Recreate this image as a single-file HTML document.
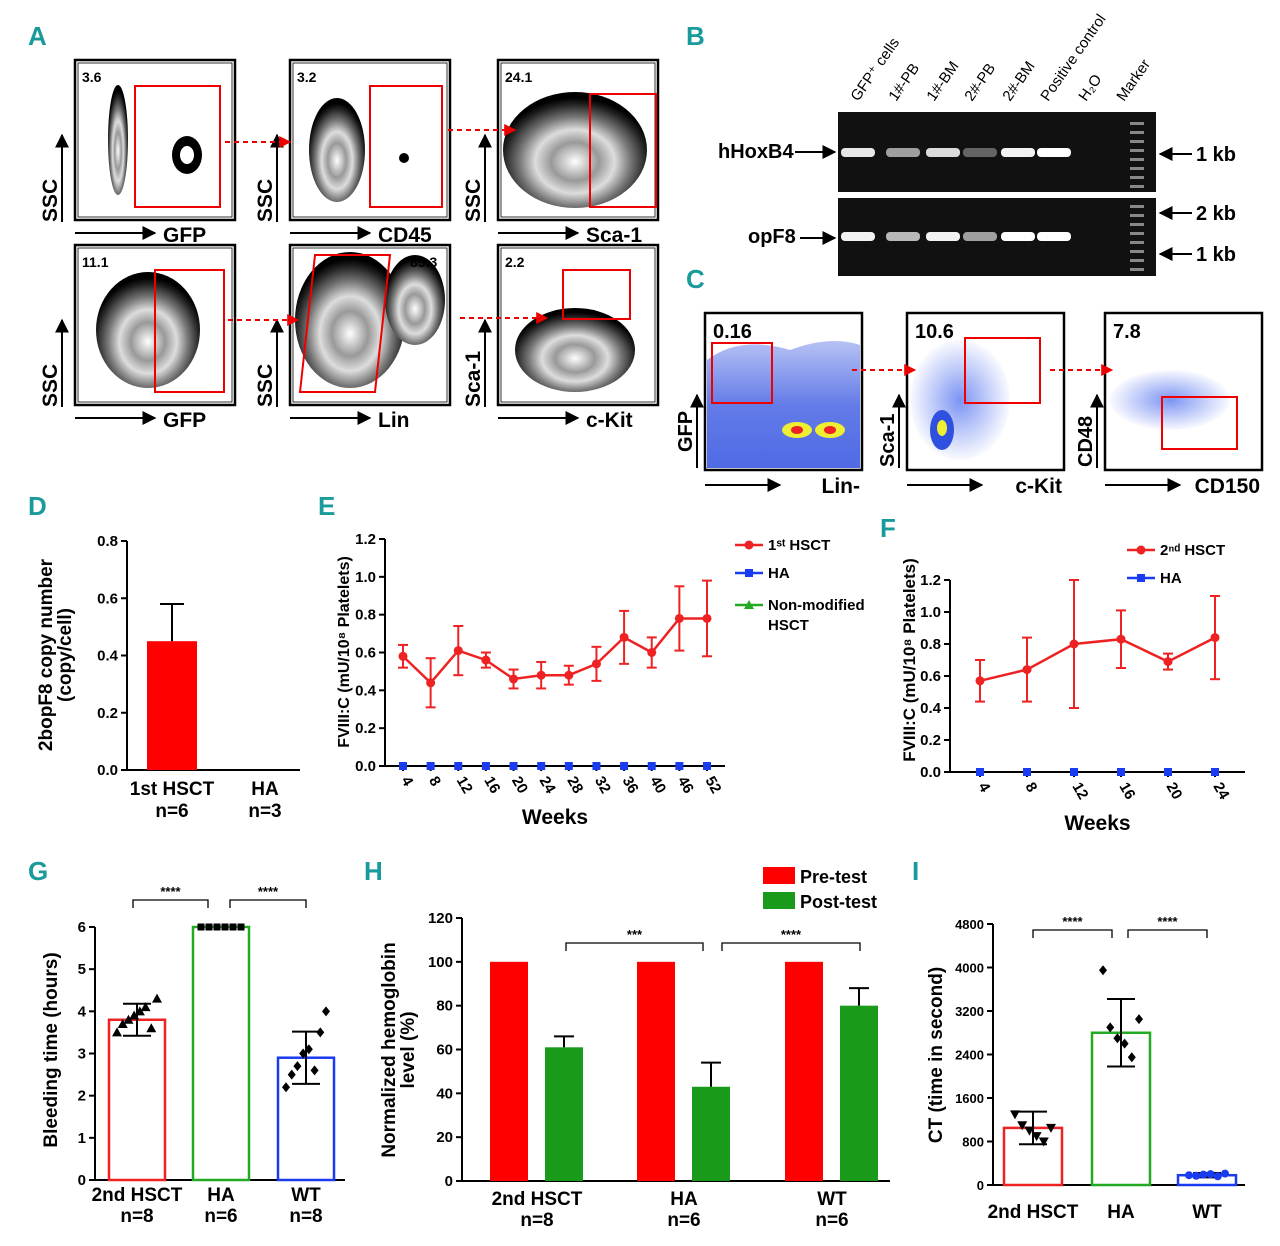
<!DOCTYPE html>
<html><head><meta charset="utf-8"><style>
body{margin:0;background:#fff}
svg{display:block;font-family:"Liberation Sans",Arial,sans-serif}
.pl{fill:#1a9b9b;font-size:26px;font-family:"Liberation Sans Narrow","Liberation Sans",sans-serif;font-weight:bold}
.b{font-weight:bold}
</style></head><body>
<svg id="fig" width="1280" height="1246" viewBox="0 0 1280 1246" xmlns="http://www.w3.org/2000/svg">
<defs>
<marker id="ah" viewBox="0 0 10 10" refX="9" refY="5" markerWidth="7" markerHeight="7" orient="auto"><path d="M0,0L10,5L0,10z" fill="#000"/></marker>
<marker id="rh" viewBox="0 0 10 10" refX="9" refY="5" markerWidth="6" markerHeight="6" orient="auto"><path d="M0,0L10,5L0,10z" fill="#e00"/></marker>
<radialGradient id="blob" cx="50%" cy="60%" r="55%"><stop offset="0" stop-color="#fff"/><stop offset="0.3" stop-color="#999"/><stop offset="0.5" stop-color="#ddd"/><stop offset="0.7" stop-color="#777"/><stop offset="0.9" stop-color="#222"/><stop offset="1" stop-color="#000"/></radialGradient>
<radialGradient id="dots" cx="50%" cy="50%" r="50%"><stop offset="0" stop-color="#4466ee" stop-opacity="0.7"/><stop offset="1" stop-color="#4466ee" stop-opacity="0.03"/></radialGradient>
<linearGradient id="linbg" x1="0" y1="0" x2="0" y2="1"><stop offset="0" stop-color="#3050e0" stop-opacity="0.35"/><stop offset="0.5" stop-color="#3050e0" stop-opacity="0.75"/><stop offset="1" stop-color="#3050e0" stop-opacity="0.85"/></linearGradient>
</defs>
<g id="static"></g>
<g id="charts"></g>
</svg>
<script>
const NS="http://www.w3.org/2000/svg";
function mk(parent,tag,attrs,text){const e=document.createElementNS(NS,tag);for(const k in attrs)e.setAttribute(k,attrs[k]);if(text!==undefined)e.textContent=text;parent.appendChild(e);return e;}
const S=document.getElementById('static');
const C=document.getElementById('charts');

const letters=[["A",28,45],["B",686,45],["C",686,288],["D",28,515],["E",318,515],["F",880,537],["G",28,880],["H",364,880],["I",912,880]];
letters.forEach(l=>{const t=mk(S,'text',{x:l[1],y:l[2],class:'pl'},l[0]);

});

const flow=[
 {x:75,y:60,num:"3.6",nx:82,xl:"GFP",yl:"SSC",gate:[135,86,220,207]},
 {x:290,y:60,num:"3.2",nx:297,xl:"CD45",yl:"SSC",gate:[370,86,442,207]},
 {x:498,y:60,num:"24.1",nx:505,xl:"Sca-1",yl:"SSC",gate:[590,94,656,207]},
 {x:75,y:245,num:"11.1",nx:82,xl:"GFP",yl:"SSC",gate:[155,270,224,392]},
 {x:290,y:245,num:"85.3",nx:410,xl:"Lin",yl:"SSC",gate:[300,255,390,392]},
 {x:498,y:245,num:"2.2",nx:505,xl:"c-Kit",yl:"Sca-1",gate:[563,270,630,319]}];
flow.forEach((f,i)=>{
 const g=mk(S,'g',{});
 mk(g,'rect',{x:f.x,y:f.y,width:160,height:160,fill:'#fff',stroke:'#000','stroke-width':2.5});
 mk(g,'rect',{x:f.x+3,y:f.y+3,width:154,height:154,fill:'none',stroke:'#000','stroke-width':0.8});
 if(i==0){mk(g,'ellipse',{cx:118,cy:140,rx:10,ry:55,fill:'url(#blob)'});mk(g,'ellipse',{cx:187,cy:155,rx:15,ry:19,fill:'#000'});mk(g,'ellipse',{cx:187,cy:155,rx:7,ry:9,fill:'#fff'});}
 if(i==1){mk(g,'ellipse',{cx:337,cy:150,rx:28,ry:52,fill:'url(#blob)'});mk(g,'circle',{cx:404,cy:158,r:5,fill:'#000'});}
 if(i==2){mk(g,'ellipse',{cx:575,cy:150,rx:72,ry:58,fill:'url(#blob)'});}
 if(i==3){mk(g,'ellipse',{cx:148,cy:330,rx:52,ry:58,fill:'url(#blob)'});}
 if(i==4){mk(g,'ellipse',{cx:350,cy:320,rx:55,ry:68,fill:'url(#blob)'});mk(g,'ellipse',{cx:415,cy:300,rx:30,ry:45,fill:'url(#blob)'});}
 if(i==5){mk(g,'ellipse',{cx:575,cy:350,rx:60,ry:42,fill:'url(#blob)'});}
 const gt=f.gate;
 if(i==4) mk(g,'polygon',{points:'315,255 390,255 375,392 300,392',fill:'none',stroke:'#e00','stroke-width':2});
 else mk(g,'rect',{x:gt[0],y:gt[1],width:gt[2]-gt[0],height:gt[3]-gt[1],fill:'none',stroke:'#e00','stroke-width':2});
 mk(g,'text',{x:f.nx,y:f.y+22,'font-size':14,class:'b'},f.num);
 mk(g,'line',{x1:f.x,y1:f.y+173,x2:f.x+80,y2:f.y+173,stroke:'#000','stroke-width':2,'marker-end':'url(#ah)'});
 mk(g,'text',{x:f.x+88,y:f.y+182,'font-size':21,class:'b'},f.xl);
 mk(g,'line',{x1:f.x-13,y1:f.y+162,x2:f.x-13,y2:f.y+75,stroke:'#000','stroke-width':2,'marker-end':'url(#ah)'});
 mk(g,'text',{x:0,y:0,'font-size':21,class:'b',transform:`translate(${f.x-18},${f.y+162}) rotate(-90)`},f.yl);
});
[[225,142,290,142],[448,130,515,130],[228,320,298,320],[460,318,547,318]].forEach((a,i)=>{
 const l=mk(S,'line',{x1:a[0],y1:a[1],x2:a[2],y2:a[3],stroke:'#e00','stroke-width':2,'stroke-dasharray':'5,4','marker-end':'url(#rh)'});
 });

const gel=mk(S,'g',{});
mk(gel,'rect',{x:838,y:112,width:318,height:80,fill:'#111'});
mk(gel,'rect',{x:838,y:198,width:318,height:78,fill:'#111'});
const laneX=[858,903,943,980,1018,1054];
const laneLbl=["GFP⁺ cells","1#-PB","1#-BM","2#-PB","2#-BM","Positive control","H₂O","Marker"];
laneLbl.forEach((t,i)=>mk(gel,'text',{x:0,y:0,'font-size':15,transform:`translate(${858+i*38},102) rotate(-55)`},t));
[[0.9,0.6,0.85,0.35,0.95,1],[0.95,0.7,0.95,0.6,1,1]].forEach((r,k)=>r.forEach((a,i)=>mk(gel,'rect',{x:laneX[i]-17,y:k?232:148,width:34,height:9,rx:4,fill:'#fff','fill-opacity':a})));
for(let j=0;j<8;j++){mk(gel,'rect',{x:1130,y:122+j*9,width:14,height:3,fill:'#888'});mk(gel,'rect',{x:1130,y:205+j*9,width:14,height:3,fill:'#888'});}
[["hHoxB4",718,158,835,152],["opF8",748,243,835,238]].forEach(a=>{mk(gel,'text',{x:a[1],y:a[2],'font-size':20,class:'b'},a[0]);mk(gel,'line',{x1:a[1]+(a[0]=="opF8"?52:77),y1:a[4],x2:a[3],y2:a[4],stroke:'#000','stroke-width':2,'marker-end':'url(#ah)'});});
[["1 kb",154],["2 kb",213],["1 kb",254]].forEach(a=>{mk(gel,'line',{x1:1192,y1:a[1],x2:1160,y2:a[1],stroke:'#000','stroke-width':2,'marker-end':'url(#ah)'});mk(gel,'text',{x:1196,y:a[1]+7,'font-size':20,class:'b'},a[0]);});

const cp=[{x:705,num:"0.16",xl:"Lin-",yl:"GFP",gate:[712,343,772,403]},{x:907,num:"10.6",xl:"c-Kit",yl:"Sca-1",gate:[965,338,1040,403]},{x:1105,num:"7.8",xl:"CD150",yl:"CD48",gate:[1162,397,1237,449]}];
cp.forEach((f,i)=>{
 const g=mk(S,'g',{});
 mk(g,'rect',{x:f.x,y:313,width:157,height:157,fill:'#fff',stroke:'#000','stroke-width':2.5});
 if(i==0){mk(g,'path',{d:'M707,360 Q740,335 790,350 Q830,335 860,345 L860,468 L707,468 Z',fill:'url(#linbg)'});mk(g,'ellipse',{cx:797,cy:430,rx:15,ry:8,fill:'#ee3'});mk(g,'ellipse',{cx:830,cy:430,rx:15,ry:8,fill:'#ee3'});mk(g,'ellipse',{cx:797,cy:430,rx:6,ry:4,fill:'#e22'});mk(g,'ellipse',{cx:830,cy:430,rx:6,ry:4,fill:'#e22'});}
 if(i==1){mk(g,'ellipse',{cx:960,cy:400,rx:50,ry:60,fill:'url(#dots)'});mk(g,'ellipse',{cx:942,cy:430,rx:12,ry:20,fill:'#3050e0'});mk(g,'ellipse',{cx:942,cy:428,rx:5,ry:8,fill:'#ee3'});}
 if(i==2){mk(g,'ellipse',{cx:1170,cy:400,rx:60,ry:30,fill:'url(#dots)'});}
 mk(g,'rect',{x:f.gate[0],y:f.gate[1],width:f.gate[2]-f.gate[0],height:f.gate[3]-f.gate[1],fill:'none',stroke:'#e00','stroke-width':2});
 mk(g,'text',{x:f.x+8,y:338,'font-size':20,class:'b'},f.num);
 mk(g,'line',{x1:f.x,y1:485,x2:f.x+75,y2:485,stroke:'#000','stroke-width':2,'marker-end':'url(#ah)'});
 mk(g,'text',{x:f.x+155,y:493,'font-size':21,class:'b','text-anchor':'end'},f.xl);
 mk(g,'line',{x1:f.x-8,y1:468,x2:f.x-8,y2:395,stroke:'#000','stroke-width':2,'marker-end':'url(#ah)'});
 mk(g,'text',{x:0,y:0,'font-size':20,class:'b',transform:`translate(${f.x-13},${i==0?452:467}) rotate(-90)`},f.yl);
});
[[852,370,915,370],[1050,370,1112,370]].forEach(a=>{const l=mk(S,'line',{x1:a[0],y1:a[1],x2:a[2],y2:a[3],stroke:'#e00','stroke-width':2,'stroke-dasharray':'5,4','marker-end':'url(#rh)'});});

// ================= CHART DATA =================
const dCats=["1st HSCT","HA"];
const dVals=[0.45,0];
const dErr=[0.13,0];
const dTicks=[0,0.2,0.4,0.6,0.8];

const eWeeks=["4","8","12","16","20","24","28","32","36","40","46","52"];
const eHSCT=[0.58,0.44,0.61,0.56,0.46,0.48,0.48,0.54,0.68,0.60,0.78,0.78];
const eErr=[0.06,0.13,0.13,0.04,0.05,0.07,0.05,0.09,0.14,0.08,0.17,0.20];
const eHA=[0,0,0,0,0,0,0,0,0,0,0,0];
const eTicks=[0,0.2,0.4,0.6,0.8,1.0,1.2];

const fWeeks=["4","8","12","16","20","24"];
const fHSCT=[0.57,0.64,0.80,0.83,0.69,0.84];
const fErr=[0.13,0.20,0.40,0.18,0.05,0.26];
const fHA=[0,0,0,0,0,0];
const fTicks=[0,0.2,0.4,0.6,0.8,1.0,1.2];

const gCats=["2nd HSCT","HA","WT"];
const gVals=[3.8,6,2.9];
const gErr=[0.38,0,0.62];
const gPts=[[3.5,3.7,3.8,3.9,4.0,4.1,3.6,4.3],[6,6,6,6,6,6],[2.2,2.5,2.7,3.0,3.1,2.6,3.5,4.0]];
const gTicks=[0,1,2,3,4,5,6];

const hCats=["2nd HSCT","HA","WT"];
const hPre=[100,100,100];
const hPost=[61,43,80];
const hErr=[5,11,8];
const hTicks=[0,20,40,60,80,100,120];

const iCats=["2nd HSCT","HA","WT"];
const iVals=[1050,2800,180];
const iErr=[300,620,40];
const iPts=[[1300,1100,1000,900,800,1050],[3950,2900,2700,2600,2350,3050],[180,170,190,200,160,210]];
const iTicks=[0,800,1600,2400,3200,4000,4800];

function axisY(y0,y1,max){return v=>y0-(v/max)*(y0-y1);}
function yaxis(g,x,y0,y1,ticks,sc,fmt,fs){
 mk(g,'line',{x1:x,y1:y0,x2:x,y2:sc(ticks[ticks.length-1]),stroke:'#000','stroke-width':2});
 ticks.forEach(t=>{mk(g,'line',{x1:x-6,y1:sc(t),x2:x,y2:sc(t),stroke:'#000','stroke-width':2});
 mk(g,'text',{x:x-9,y:sc(t)+5,'font-size':fs||15,class:'b','text-anchor':'end'},fmt(t));});
}
function ylabel(g,x,y,lines,fs){lines.forEach((l,i)=>mk(g,'text',{x:0,y:0,'font-size':fs,class:'b','text-anchor':'middle',transform:`translate(${x+i*fs},${y}) rotate(-90)`},l));}
function errbar(g,x,ya,yb,w,col){mk(g,'line',{x1:x,y1:ya,x2:x,y2:yb,stroke:col,'stroke-width':2});mk(g,'line',{x1:x-w,y1:yb,x2:x+w,y2:yb,stroke:col,'stroke-width':2});}

(function(){const g=mk(C,'g',{});
 const sc=axisY(770,541,0.8);
 yaxis(g,127,770,541,dTicks,sc,t=>t.toFixed(1),15);
 mk(g,'line',{x1:127,y1:770,x2:300,y2:770,stroke:'#000','stroke-width':2});
 const xs=[172,265];
 dCats.forEach((c,i)=>{
  if(dVals[i]>0){const r=mk(g,'rect',{x:xs[i]-25,y:sc(dVals[i]),width:50,height:770-sc(dVals[i]),fill:'#f00'});
  errbar(g,xs[i],sc(dVals[i]),sc(dVals[i]+dErr[i]),12,'#000');}
  mk(g,'text',{x:xs[i],y:795,'font-size':19,class:'b','text-anchor':'middle'},c);
  mk(g,'text',{x:xs[i],y:817,'font-size':19,class:'b','text-anchor':'middle'},i?'n=3':'n=6');
 });
 ylabel(g,52,655,["2bopF8 copy number","(copy/cell)"],19);
})();

function lineChart(name,x0,x1,y0,y1,weeks,vals,err,ha,ticks,xpad){
 const g=mk(C,'g',{});
 const sc=axisY(y0,y1,1.2);
 yaxis(g,x0,y0,y1,ticks,sc,t=>t.toFixed(1),15);
 mk(g,'line',{x1:x0,y1:y0,x2:x1,y2:y0,stroke:'#000','stroke-width':2});
 const step=(x1-x0-2*xpad)/(weeks.length-1);
 const xs=weeks.map((w,i)=>x0+xpad+i*step);
 weeks.forEach((w,i)=>{mk(g,'line',{x1:xs[i],y1:y0,x2:xs[i],y2:y0+5,stroke:'#000','stroke-width':2});
  mk(g,'text',{x:0,y:0,'font-size':15,class:'b',transform:`translate(${xs[i]-2},${y0+14}) rotate(60)`},w);});
 mk(g,'polyline',{points:vals.map((v,i)=>xs[i]+','+sc(v)).join(' '),fill:'none',stroke:'#e22','stroke-width':2.5});
 vals.forEach((v,i)=>{mk(g,'line',{x1:xs[i],y1:sc(v-err[i]),x2:xs[i],y2:sc(v+err[i]),stroke:'#e22','stroke-width':2});
  [v-err[i],v+err[i]].forEach(e=>mk(g,'line',{x1:xs[i]-5,y1:sc(e),x2:xs[i]+5,y2:sc(e),stroke:'#e22','stroke-width':2}));
  const p=mk(g,'circle',{cx:xs[i],cy:sc(v),r:4.5,fill:'#e22'});
  const q=mk(g,'rect',{x:xs[i]-4,y:sc(ha[i])-4,width:8,height:8,fill:'#1a3cf0'});});
 mk(g,'text',{x:(x0+x1)/2,y:y0+58,'font-size':21,class:'b','text-anchor':'middle'},'Weeks');
 return g;
}
const ge=lineChart('chart-e',385,725,766,539,eWeeks,eHSCT,eErr,eHA,eTicks,18);
ylabel(ge,349,652,["FVIII:C (mU/10⁸ Platelets)"],16);
[["1ˢᵗ HSCT",550,'#e22','c'],["HA",578,'#1a3cf0','s'],["Non-modified",610,'#2a2','t']].forEach(l=>{
 mk(ge,'line',{x1:735,y1:l[1]-5,x2:763,y2:l[1]-5,stroke:l[2],'stroke-width':2.5});
 if(l[3]=='c')mk(ge,'circle',{cx:749,cy:l[1]-5,r:4.5,fill:l[2]});
 if(l[3]=='s')mk(ge,'rect',{x:745,y:l[1]-9,width:8,height:8,fill:l[2]});
 if(l[3]=='t')mk(ge,'polygon',{points:`749,${l[1]-10} 754,${l[1]-1} 744,${l[1]-1}`,fill:l[2]});
 mk(ge,'text',{x:768,y:l[1],'font-size':15,class:'b'},l[0]);});
mk(ge,'text',{x:768,y:630,'font-size':15,class:'b'},'HSCT');
const gf=lineChart('chart-f',950,1245,772,580,fWeeks,fHSCT,fErr,fHA,fTicks,30);
ylabel(gf,915,660,["FVIII:C (mU/10⁸ Platelets)"],17);
[["2ⁿᵈ HSCT",555,'#e22','c'],["HA",583,'#1a3cf0','s']].forEach(l=>{
 mk(gf,'line',{x1:1127,y1:l[1]-5,x2:1155,y2:l[1]-5,stroke:l[2],'stroke-width':2.5});
 if(l[3]=='c')mk(gf,'circle',{cx:1141,cy:l[1]-5,r:4.5,fill:l[2]});else mk(gf,'rect',{x:1137,y:l[1]-9,width:8,height:8,fill:l[2]});
 mk(gf,'text',{x:1160,y:l[1],'font-size':15,class:'b'},l[0]);});

function sig(g,xa,xb,y,t){mk(g,'polyline',{points:`${xa},${y+8} ${xa},${y} ${xb},${y} ${xb},${y+8}`,fill:'none',stroke:'#000','stroke-width':1.3});mk(g,'text',{x:(xa+xb)/2,y:y-4,'font-size':13,class:'b','text-anchor':'middle'},t);}
(function(){const g=mk(C,'g',{});
 const sc=axisY(1180,927,6);
 yaxis(g,95,1180,927,gTicks,sc,t=>String(t),15);
 mk(g,'line',{x1:95,y1:1180,x2:345,y2:1180,stroke:'#000','stroke-width':2});
 const xs=[137,221,306],cols=['#e22','#2a2','#1a3cf0'];
 gCats.forEach((c,i)=>{const r=mk(g,'rect',{x:xs[i]-28,y:sc(gVals[i]),width:56,height:1180-sc(gVals[i]),fill:'none',stroke:cols[i],'stroke-width':2.5});
  
  if(gErr[i]){errbar(g,xs[i],sc(gVals[i]),sc(gVals[i]+gErr[i]),14,'#000');errbar(g,xs[i],sc(gVals[i]),sc(gVals[i]-gErr[i]),14,'#000');}
  gPts[i].forEach((p,j)=>{const px=xs[i]-20+j*(40/(gPts[i].length-1));
   if(i==1)mk(g,'rect',{x:px-3.5,y:sc(p)-3.5,width:7,height:7,fill:'#000'});
   else if(i==0)mk(g,'polygon',{points:`${px},${sc(p)-5} ${px+5},${sc(p)+4} ${px-5},${sc(p)+4}`,fill:'#000'});
   else mk(g,'polygon',{points:`${px},${sc(p)-5} ${px+4},${sc(p)} ${px},${sc(p)+5} ${px-4},${sc(p)}`,fill:'#000'});});
  mk(g,'text',{x:xs[i],y:1201,'font-size':19,class:'b','text-anchor':'middle'},c);
  mk(g,'text',{x:xs[i],y:1222,'font-size':19,class:'b','text-anchor':'middle'},'n='+[8,6,8][i]);});
 sig(g,133,208,900,'****');sig(g,230,306,900,'****');
 ylabel(g,57,1050,["Bleeding time (hours)"],19);
})();

(function(){const g=mk(C,'g',{});
 const sc=axisY(1181,918,120);
 yaxis(g,462,1181,918,hTicks,sc,t=>String(t),15);
 mk(g,'line',{x1:462,y1:1181,x2:890,y2:1181,stroke:'#000','stroke-width':2});
 const xs=[509,656,804];
 hCats.forEach((c,i)=>{
  const a=mk(g,'rect',{x:xs[i]-19,y:sc(hPre[i]),width:38,height:1181-sc(hPre[i]),fill:'#f00'});
  const b=mk(g,'rect',{x:xs[i]+36,y:sc(hPost[i]),width:38,height:1181-sc(hPost[i]),fill:'#1a9a1a'});
  errbar(g,xs[i]+55,sc(hPost[i]),sc(hPost[i]+hErr[i]),10,'#000');
  mk(g,'text',{x:xs[i]+28,y:1205,'font-size':19,class:'b','text-anchor':'middle'},c);
  mk(g,'text',{x:xs[i]+28,y:1226,'font-size':19,class:'b','text-anchor':'middle'},'n='+[8,6,6][i]);});
 sig(g,566,703,943,'***');sig(g,722,860,943,'****');
 mk(g,'rect',{x:763,y:867,width:32,height:17,fill:'#f00'});mk(g,'text',{x:800,y:883,'font-size':18,class:'b'},'Pre-test');
 mk(g,'rect',{x:763,y:892,width:32,height:17,fill:'#1a9a1a'});mk(g,'text',{x:800,y:908,'font-size':18,class:'b'},'Post-test');
 ylabel(g,395,1050,["Normalized hemoglobin","level (%)"],19);
})();

(function(){const g=mk(C,'g',{});
 const sc=axisY(1185,924,4800);
 yaxis(g,993,1185,924,iTicks,sc,t=>String(t),13);
 mk(g,'line',{x1:993,y1:1185,x2:1245,y2:1185,stroke:'#000','stroke-width':2});
 const xs=[1033,1121,1207],cols=['#e22','#2a2','#1a3cf0'];
 iCats.forEach((c,i)=>{const r=mk(g,'rect',{x:xs[i]-29,y:sc(iVals[i]),width:58,height:1185-sc(iVals[i]),fill:'none',stroke:cols[i],'stroke-width':2.5});
  
  errbar(g,xs[i],sc(iVals[i]),sc(iVals[i]+iErr[i]),14,'#000');errbar(g,xs[i],sc(iVals[i]),sc(iVals[i]-iErr[i]),14,'#000');
  iPts[i].forEach((p,j)=>{const px=xs[i]-18+j*(36/(iPts[i].length-1));
   if(i==0)mk(g,'polygon',{points:`${px-5},${sc(p)-4} ${px+5},${sc(p)-4} ${px},${sc(p)+5}`,fill:'#000'});
   else if(i==1)mk(g,'polygon',{points:`${px},${sc(p)-5} ${px+4},${sc(p)} ${px},${sc(p)+5} ${px-4},${sc(p)}`,fill:'#000'});
   else mk(g,'circle',{cx:px,cy:sc(p),r:4,fill:'#1a3cf0'});});
  mk(g,'text',{x:xs[i],y:1218,'font-size':19,class:'b','text-anchor':'middle'},c);});
 sig(g,1033,1112,930,'****');sig(g,1128,1207,930,'****');
 ylabel(g,942,1055,["CT (time in second)"],19);
})();
</script>
</body></html>
